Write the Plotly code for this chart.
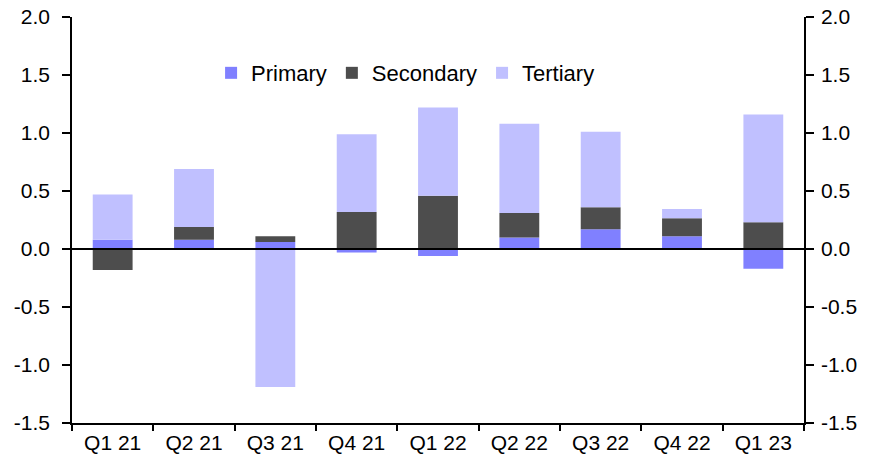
import plotly.graph_objects as go

categories = ["Q1 21", "Q2 21", "Q3 21", "Q4 21", "Q1 22", "Q2 22", "Q3 22", "Q4 22", "Q1 23"]
primary = [0.08, 0.08, 0.06, -0.03, -0.06, 0.10, 0.17, 0.11, -0.17]
secondary = [-0.18, 0.11, 0.05, 0.32, 0.46, 0.21, 0.19, 0.155, 0.23]
tertiary = [0.39, 0.50, -1.19, 0.67, 0.76, 0.77, 0.65, 0.08, 0.93]
y_ticks = [-1.5, -1.0, -0.5, 0.0, 0.5, 1.0, 1.5, 2.0]

font = dict(family="Liberation Sans, Arial, sans-serif", size=21, color="black")

fig = go.Figure()
fig.add_bar(x=categories, y=primary, name="Primary", marker_color="#8080FF", marker_line_width=0)
fig.add_bar(x=categories, y=secondary, name="Secondary", marker_color="#4D4D4D", marker_line_width=0)
fig.add_bar(x=categories, y=tertiary, name="Tertiary", marker_color="#C0C0FF", marker_line_width=0)
fig.add_scatter(x=categories, y=[None]*len(categories), yaxis="y2", showlegend=False, hoverinfo="skip")

yax = dict(range=[-1.5, 2.0], tickvals=y_ticks, ticktext=[f"{v:.1f}" for v in y_ticks],
           showgrid=False, zeroline=False, showline=True, linecolor="black", linewidth=1.5,
           ticks="outside", ticklen=8, tickcolor="black", tickwidth=1.5, tickfont=font,
           automargin=False)

fig.update_layout(
    template="none",
    width=874, height=470,
    margin=dict(l=72, r=70, t=17, b=47, pad=0),
    paper_bgcolor="white", plot_bgcolor="white",
    barmode="relative", bargap=0.51,
    font=font,
    showlegend=True,
    legend=dict(orientation="h", x=0.19, xanchor="left", y=0.862, yanchor="middle",
                font=dict(font, size=22), bgcolor="rgba(0,0,0,0)", itemwidth=30,
                tracegroupgap=0, borderwidth=0),
    xaxis=dict(type="category", tickson="boundaries", ticks="outside", ticklen=6,
               tickcolor="black", tickwidth=1.5, showline=True, linecolor="black", linewidth=1.5,
               showgrid=False, zeroline=False, tickfont=font, automargin=False),
    yaxis=dict(yax, ticklabelstandoff=8),
    yaxis2=dict(yax, overlaying="y", side="right", ticklabelstandoff=3),
    shapes=[dict(type="line", xref="paper", x0=0, x1=1, yref="y", y0=0, y1=0,
                 line=dict(color="black", width=2), layer="above"),
            dict(type="line", xref="paper", x0=-0.011, x1=0, yref="y", y0=-1.5, y1=-1.5,
                 line=dict(color="black", width=1.5), layer="above")],
)

fig.write_html("out.html", config={"displayModeBar": False},
               post_script="document.body.style.margin='0';")
